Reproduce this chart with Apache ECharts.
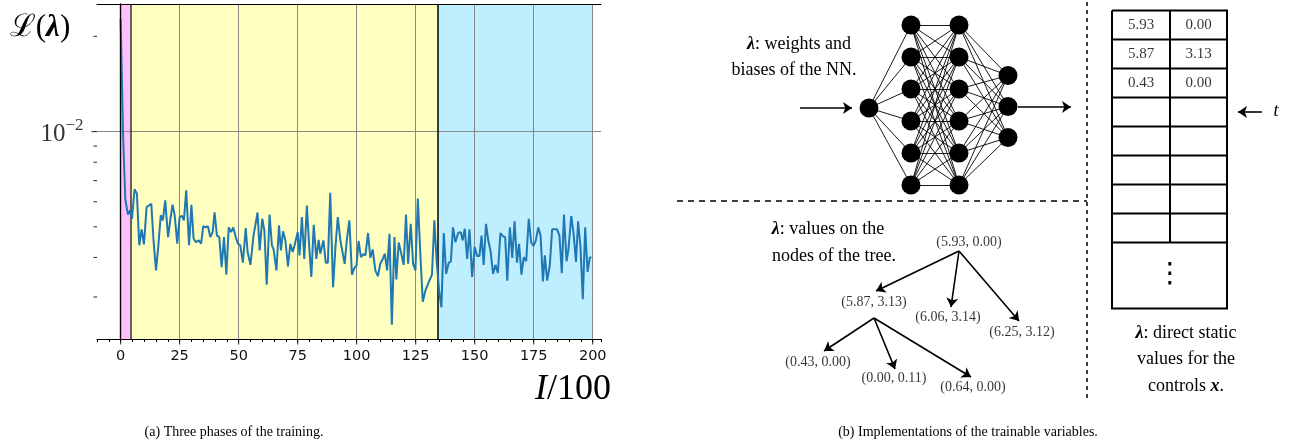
<!DOCTYPE html>
<html>
<head>
<meta charset="utf-8">
<script src="https://cdn.jsdelivr.net/npm/echarts@6/dist/echarts.min.js"></script>
<style>
  html, body { margin: 0; padding: 0; background: #fff; }
  #chart { width: 1293px; height: 448px; }
</style>
</head>
<body>
<div id="chart"></div>
<script>
// ---------- data: (a) loss curve ----------
const lossCurve = [
  [0,22.7e-3],[0.6,14.2e-3],[1.0,10.0e-3],[1.6,7.4e-3],[2.0,6.1e-3],[3.1,5.47e-3],[4.1,5.64e-3],[4.8,5.30e-3],
  [5.9,6.57e-3],[6.9,6.36e-3],[7.9,4.37e-3],[8.9,4.91e-3],[9.9,4.40e-3],[11.0,5.77e-3],[12.0,5.84e-3],[13.0,5.91e-3],
  [14.0,4.47e-3],[15.0,3.64e-3],[16.0,4.37e-3],[17.0,5.44e-3],[17.9,5.24e-3],[18.9,6.06e-3],[20.1,4.64e-3],[21.1,5.30e-3],
  [22.0,5.87e-3],[22.9,5.44e-3],[24.0,4.42e-3],[25.0,5.37e-3],[26.0,5.41e-3],[26.8,5.24e-3],[27.8,6.52e-3],[29.0,4.37e-3],
  [30.0,5.87e-3],[30.9,4.59e-3],[31.9,4.47e-3],[33.1,4.53e-3],[34.1,4.42e-3],[35.0,5.02e-3],[36.0,4.98e-3],[37.0,5.02e-3],
  [38.0,4.64e-3],[39.0,4.81e-3],[39.8,5.55e-3],[40.8,4.69e-3],[41.8,4.64e-3],[42.8,3.73e-3],[43.8,4.64e-3],[44.8,3.53e-3],
  [45.8,4.98e-3],[46.8,4.81e-3],[47.7,4.98e-3],[48.7,4.67e-3],[49.7,4.42e-3],[50.7,4.37e-3],[51.8,3.85e-3],[53.0,4.95e-3],
  [53.8,4.16e-3],[55.0,3.79e-3],[56.3,4.69e-3],[58.0,5.55e-3],[58.9,4.21e-3],[60.0,5.30e-3],[60.9,4.87e-3],[61.9,3.28e-3],
  [63.1,5.47e-3],[64.1,4.37e-3],[64.8,4.24e-3],[66.0,3.64e-3],[67.1,5.05e-3],[67.9,4.21e-3],[68.8,4.84e-3],[69.8,4.53e-3],
  [70.9,3.75e-3],[71.9,4.42e-3],[72.9,4.16e-3],[73.7,4.37e-3],[75.0,4.81e-3],[75.8,4.06e-3],[76.8,5.37e-3],[77.8,3.96e-3],
  [78.9,5.84e-3],[79.9,4.32e-3],[80.8,3.47e-3],[81.8,5.07e-3],[82.9,3.96e-3],[83.9,4.55e-3],[84.6,4.11e-3],[85.9,4.53e-3],
  [86.9,3.85e-3],[87.8,3.85e-3],[88.8,6.41e-3],[90.0,3.22e-3],[91.0,4.3e-3],[92.0,5.37e-3],[93.1,4.53e-3],[94.9,3.82e-3],
  [95.9,4.6e-3],[96.9,5.24e-3],[98.0,3.53e-3],[99.0,3.7e-3],[99.9,3.77e-3],[100.8,4.51e-3],[101.8,4.01e-3],[102.8,4.1e-3],
  [103.7,4.06e-3],[104.8,4.78e-3],[105.8,3.99e-3],[106.8,4.24e-3],[107.9,3.64e-3],[109.0,3.49e-3],[110.0,3.82e-3],[111.0,3.95e-3],
  [111.9,4.11e-3],[112.9,3.64e-3],[113.9,4.75e-3],[114.9,2.45e-3],[116.0,4.64e-3],[116.8,3.41e-3],[117.8,4.46e-3],[118.9,4.11e-3],
  [119.9,3.79e-3],[120.9,5.47e-3],[121.8,3.82e-3],[122.9,5.11e-3],[123.9,3.82e-3],[124.9,3.64e-3],[125.9,6.14e-3],[126.9,4.21e-3],
  [128.0,2.90e-3],[129.1,3.14e-3],[130.5,3.34e-3],[131.9,3.53e-3],[132.9,5.24e-3],[133.9,3.87e-3],[135.0,3.10e-3],[135.9,2.78e-3],
  [136.9,4.78e-3],[137.9,3.55e-3],[139.0,3.85e-3],[139.9,3.89e-3],[140.8,4.98e-3],[141.8,4.47e-3],[143.0,4.78e-3],[144.1,4.81e-3],
  [144.9,4.53e-3],[145.8,4.93e-3],[146.8,3.96e-3],[147.8,4.91e-3],[148.9,3.47e-3],[150.0,4.32e-3],[151.0,4.04e-3],[152.0,4.04e-3],
  [152.9,4.69e-3],[153.8,3.79e-3],[154.8,5.11e-3],[155.8,4.5e-3],[156.7,4.20e-3],[157.8,3.55e-3],[158.8,3.79e-3],[159.8,3.57e-3],
  [160.9,4.78e-3],[161.9,4.67e-3],[162.9,4.64e-3],[163.8,3.38e-3],[164.9,4.98e-3],[165.9,3.99e-3],[166.9,5.20e-3],[167.9,3.85e-3],
  [168.8,4.42e-3],[169.8,3.53e-3],[170.8,4.01e-3],[171.8,3.89e-3],[172.9,5.30e-3],[173.9,4.47e-3],[174.9,4.35e-3],[175.9,4.53e-3],
  [176.9,4.98e-3],[177.9,4.69e-3],[178.9,3.36e-3],[179.7,4.06e-3],[180.7,3.38e-3],[181.8,3.77e-3],[182.8,4.91e-3],[183.9,4.91e-3],
  [184.9,4.91e-3],[185.9,4.69e-3],[186.9,3.57e-3],[187.8,5.47e-3],[188.9,3.89e-3],[189.7,4.24e-3],[190.9,5.41e-3],[191.9,4.75e-3],
  [192.9,3.87e-3],[193.8,5.20e-3],[194.8,4.32e-3],[195.8,2.95e-3],[196.8,4.98e-3],[197.8,3.60e-3],[198.8,4.01e-3],[199.4,3.99e-3]
];
const phaseBounds = [0, 4.2, 134.4, 200];
const xTicks = [0, 25, 50, 75, 100, 125, 150, 175, 200];
const yMajorTicks = [0.01];
const yMinorTicks = [0.003, 0.004, 0.005, 0.006, 0.007, 0.008, 0.009, 0.02];

// ---------- data: (b) trainable variables ----------
const nnLayers = [1, 6, 6, 3];
const treeLabels = ['(5.93, 0.00)', '(5.87, 3.13)', '(6.06, 3.14)', '(6.25, 3.12)',
                    '(0.43, 0.00)', '(0.00, 0.11)', '(0.64, 0.00)'];
const treeParent = [-1, 0, 0, 0, 1, 1, 1];
const tableValues = [['5.93', '0.00'], ['5.87', '3.13'], ['0.43', '0.00']];
const tableRowCount = 8;

// ---------- layout / style ----------
const SERIF = '"Liberation Serif", "DejaVu Serif", serif';
const SANS = '"DejaVu Sans", sans-serif';
const X_RANGE = [-10, 203.5];
const Y_RANGE = [0.00221, 0.0253];
const PHASE_COLORS = ['rgba(255,0,255,0.25)', 'rgba(255,255,0,0.25)', 'rgba(0,191,255,0.25)'];

const NN_X = [869, 911, 959, 1008];
const NN_CY = [108, 105, 105, 106.5];
const NN_GAP = [0, 32, 32, 31];

const TREE_POS = [[969, 242], [874, 302], [948, 317], [1022, 332], [818, 362], [894, 378], [973, 387]];
const TREE_TAIL = { 0: [959, 251], 1: [874, 318] };
const TREE_TIP = [null, [876, 291], [951, 307], [1019, 321], [824, 351], [895, 369], [971, 377]];

const TB = { left: 1112, mid: 1170, right: 1227, top: 10.5, rowH: 29, bottom: 308.5 };

// ---------- derived marks ----------
const nnNodes = [], nnLinks = [], layerStart = [];
nnLayers.forEach((n, l) => {
  layerStart.push(nnNodes.length);
  for (let i = 0; i < n; i++) {
    nnNodes.push({ value: [NN_X[l], NN_CY[l] + (i - (n - 1) / 2) * NN_GAP[l]] });
  }
});
for (let l = 0; l < nnLayers.length - 1; l++)
  for (let i = 0; i < nnLayers[l]; i++)
    for (let j = 0; j < nnLayers[l + 1]; j++)
      nnLinks.push({ source: layerStart[l] + i, target: layerStart[l + 1] + j });

const arrowLines = [
  { coords: [[800, 108], [852, 108]] },
  { coords: [[1018, 107], [1071, 107]] },
  { coords: [[1262, 112], [1238, 112]] }
];
treeParent.forEach((p, i) => {
  if (p >= 0) arrowLines.push({ coords: [TREE_TAIL[p], TREE_TIP[i]] });
});

const tableLines = [{ coords: [[TB.left, TB.top], [TB.right, TB.top], [TB.right, TB.bottom], [TB.left, TB.bottom], [TB.left, TB.top]] }];
for (let r = 1; r <= tableRowCount; r++) {
  const y = TB.top + r * TB.rowH;
  tableLines.push({ coords: [[TB.left, y], [TB.right, y]] });
}
tableLines.push({ coords: [[TB.mid, TB.top], [TB.mid, TB.top + tableRowCount * TB.rowH]] });

const tableCells = [];
tableValues.forEach((row, r) => {
  row.forEach((v, c) => {
    const x = c === 0 ? (TB.left + TB.mid) / 2 : (TB.mid + TB.right) / 2;
    tableCells.push({ name: v, value: [x, TB.top + (r + 0.5) * TB.rowH] });
  });
});

const phaseAreas = [];
for (let k = 0; k < phaseBounds.length - 1; k++) {
  phaseAreas.push([{ xAxis: phaseBounds[k], itemStyle: { color: PHASE_COLORS[k] } }, { xAxis: phaseBounds[k + 1] }]);
}
const gridMarks = xTicks.map(v => ({ xAxis: v }))
  .concat(yMajorTicks.map(v => ({ yAxis: v })))
  .concat([phaseBounds[1], phaseBounds[2]].map((v, k) => ({
    xAxis: v, lineStyle: { color: k === 0 ? '#333' : '#000', width: 1.5, type: 'solid' }
  })));

function txt(x, y, text, size, extra) {
  return {
    type: 'text', x: x, y: y, silent: true, z: 100,
    style: Object.assign({
      text: text, fill: '#000', fontFamily: SERIF, fontSize: size,
      align: 'center', verticalAlign: 'middle', textAlign: 'center', textVerticalAlign: 'middle',
      rich: {
        b: { fontFamily: SERIF, fontSize: size, fontWeight: 'bold', fontStyle: 'italic' }
      }
    }, extra || {})
  };
}

const chart = echarts.init(document.getElementById('chart'));
chart.setOption({
  animation: false,
  backgroundColor: '#fff',
  grid: [
    { left: 97, top: 4, width: 504, height: 335 },
    { left: 0, top: 0, width: 1293, height: 448 }
  ],
  xAxis: [
    {
      gridIndex: 0, type: 'value', min: X_RANGE[0], max: X_RANGE[1], interval: 5, z: 5,
      axisLine: { lineStyle: { color: '#000', width: 1.2 } },
      axisTick: { length: 3, lineStyle: { color: '#000', width: 1 } },
      splitLine: { show: false },
      axisLabel: {
        interval: 0, margin: 10, color: '#111', fontFamily: SANS, fontSize: 14.5,
        formatter: v => (xTicks.indexOf(v) >= 0 ? String(v) : '')
      }
    },
    {
      gridIndex: 0, type: 'value', position: 'top', min: X_RANGE[0], max: X_RANGE[1], z: 5,
      axisLine: { lineStyle: { color: '#000', width: 1.2 } },
      axisTick: { show: false }, axisLabel: { show: false }, splitLine: { show: false }
    },
    { gridIndex: 1, type: 'value', min: 0, max: 1293, show: false }
  ],
  yAxis: [
    {
      gridIndex: 0, type: 'log', logBase: 10, min: Y_RANGE[0], max: Y_RANGE[1], z: 5,
      axisLine: { show: true, lineStyle: { color: '#000', width: 1.2 } },
      axisTick: { show: false }, axisLabel: { show: false }, splitLine: { show: false }
    },
    {
      gridIndex: 0, type: 'log', logBase: 10, position: 'right', min: Y_RANGE[0], max: Y_RANGE[1], z: 5,
      axisLine: { show: true, lineStyle: { color: '#000', width: 1.2 } },
      axisTick: { show: false }, axisLabel: { show: false }, splitLine: { show: false }
    },
    { gridIndex: 1, type: 'value', min: 0, max: 448, inverse: true, show: false }
  ],
  series: [
    {
      name: 'phases', type: 'line', xAxisIndex: 0, yAxisIndex: 0, data: [], silent: true,
      markArea: { z: 1, silent: true, data: phaseAreas }
    },
    {
      name: 'grid', type: 'line', xAxisIndex: 0, yAxisIndex: 0, data: [], silent: true,
      markLine: {
        z: 2, silent: true, symbol: ['none', 'none'], label: { show: false },
        lineStyle: { color: '#888', width: 1, type: 'solid' },
        data: gridMarks
      }
    },
    {
      name: 'loss', type: 'line', xAxisIndex: 0, yAxisIndex: 0, z: 3,
      data: lossCurve, showSymbol: false, symbol: 'none',
      lineStyle: { color: '#1f77b4', width: 2 }
    },
    {
      name: 'yMinor', type: 'scatter', xAxisIndex: 0, yAxisIndex: 0, z: 6, clip: false, silent: true,
      data: yMinorTicks.map(v => [X_RANGE[0], v]),
      symbol: 'rect', symbolSize: [3.5, 1.1], symbolOffset: [-1.75, 0],
      itemStyle: { color: '#000' }
    },
    {
      name: 'yMajor', type: 'scatter', xAxisIndex: 0, yAxisIndex: 0, z: 6, clip: false, silent: true,
      data: yMajorTicks.map(v => [X_RANGE[0], v]),
      symbol: 'rect', symbolSize: [5.5, 1.1], symbolOffset: [-2.75, 0],
      itemStyle: { color: '#000' },
      label: {
        show: true, position: 'left', distance: 8,
        formatter: '{m|10}{s|−2}',
        rich: {
          m: { fontFamily: SERIF, fontSize: 25, color: '#000', lineHeight: 30, verticalAlign: 'bottom' },
          s: { fontFamily: SERIF, fontSize: 17, color: '#000', lineHeight: 17, verticalAlign: 'top' }
        }
      }
    },
    {
      name: 'xMajor', type: 'scatter', xAxisIndex: 0, yAxisIndex: 0, z: 6, clip: false, silent: true,
      data: xTicks.map(v => [v, Y_RANGE[0]]),
      symbol: 'rect', symbolSize: [1.1, 5.5], symbolOffset: [0, 2.75],
      itemStyle: { color: '#000' }
    },
    // ---- panel (b) ----
    {
      name: 'nn', type: 'graph', coordinateSystem: 'cartesian2d', xAxisIndex: 2, yAxisIndex: 2,
      layout: 'none', silent: true, z: 4,
      data: nnNodes, links: nnLinks,
      symbol: 'circle', symbolSize: 19,
      itemStyle: { color: '#000' },
      lineStyle: { color: '#000', width: 0.9, opacity: 1, curveness: 0 },
      label: { show: false }
    },
    {
      name: 'arrows', type: 'lines', coordinateSystem: 'cartesian2d', xAxisIndex: 2, yAxisIndex: 2,
      silent: true, z: 4, data: arrowLines,
      symbol: ['none', 'arrow'], symbolSize: 9,
      lineStyle: { color: '#000', width: 1.6, opacity: 1 }
    },
    {
      name: 'table', type: 'lines', coordinateSystem: 'cartesian2d', xAxisIndex: 2, yAxisIndex: 2,
      silent: true, z: 4, polyline: true, data: tableLines, symbol: ['none', 'none'],
      lineStyle: { color: '#000', width: 2, opacity: 1 }
    },
    {
      name: 'dividerH', type: 'lines', coordinateSystem: 'cartesian2d', xAxisIndex: 2, yAxisIndex: 2,
      silent: true, z: 4, data: [{ coords: [[677, 201], [1087, 201]] }], symbol: ['none', 'none'],
      lineStyle: { color: '#000', width: 1.5, opacity: 1, type: [6, 5] }
    },
    {
      name: 'dividerV', type: 'lines', coordinateSystem: 'cartesian2d', xAxisIndex: 2, yAxisIndex: 2,
      silent: true, z: 4, data: [{ coords: [[1087, 2], [1087, 398]] }], symbol: ['none', 'none'],
      lineStyle: { color: '#000', width: 1.5, opacity: 1, type: [4, 4] }
    },
    {
      name: 'treeLabels', type: 'scatter', xAxisIndex: 2, yAxisIndex: 2, silent: true, z: 5,
      data: treeLabels.map((t, i) => ({ name: t, value: TREE_POS[i] })),
      symbolSize: 1, itemStyle: { color: 'rgba(0,0,0,0)' },
      label: { show: true, position: 'inside', formatter: '{b}', color: '#000', fontFamily: SERIF, fontSize: 14 }
    },
    {
      name: 'tableCells', type: 'scatter', xAxisIndex: 2, yAxisIndex: 2, silent: true, z: 5,
      data: tableCells,
      symbolSize: 1, itemStyle: { color: 'rgba(0,0,0,0)' },
      label: { show: true, position: 'inside', formatter: '{b}', color: '#000', fontFamily: SERIF, fontSize: 15 }
    }
  ],
  graphic: [
    txt(40, 28, 'ℒ({b|λ})', 31, { rich: { b: { fontFamily: SERIF, fontSize: 31, fontWeight: 'bold', fontStyle: 'italic' } } }),
    txt(573, 390, '{i|I}/100', 36, { rich: { i: { fontFamily: SERIF, fontSize: 36, fontStyle: 'italic' } } }),
    txt(234, 432, '(a) Three phases of the training.', 14),
    txt(968, 432, '(b) Implementations of the trainable variables.', 14),
    txt(799, 44, '{b|λ}: weights and', 18),
    txt(794, 70, 'biases of the NN.', 18),
    txt(828, 229, '{b|λ}: values on the', 18),
    txt(834, 256, 'nodes of the tree.', 18),
    txt(1186, 333, '{b|λ}: direct static', 18),
    txt(1186, 359, 'values for the', 18),
    txt(1186, 386, 'controls {b|x}.', 18),
    txt(1276, 111, '{i|t}', 18, { rich: { i: { fontFamily: SERIF, fontSize: 18, fontStyle: 'italic' } } }),
    txt(1170, 275, '⋮', 28, { fontFamily: '"DejaVu Sans", sans-serif' })
  ]
});
</script>
</body>
</html>
